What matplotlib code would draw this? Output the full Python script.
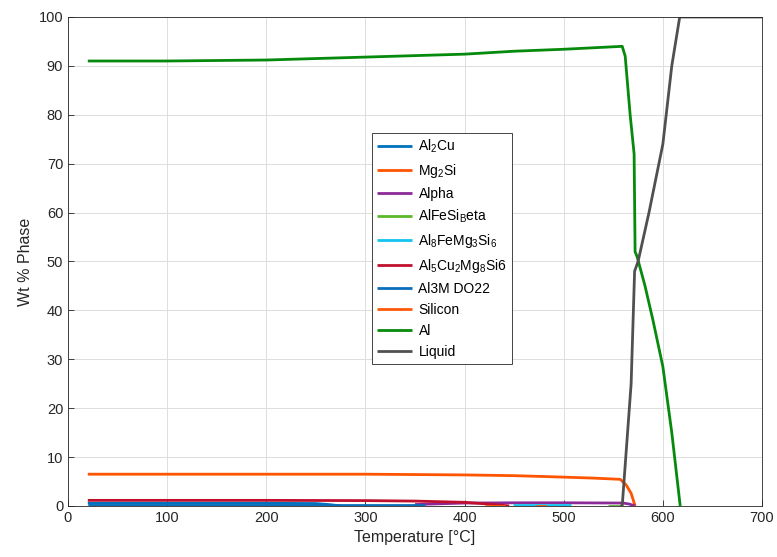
import numpy as np
import matplotlib
matplotlib.use("Agg")
import matplotlib.pyplot as plt

plt.rcParams["font.family"] = ["Liberation Sans", "DejaVu Sans"]
plt.rcParams["mathtext.fontset"] = "custom"
plt.rcParams["mathtext.rm"] = "Liberation Sans"

nan = np.nan

# Phase curves, temperature [C] vs wt %
t_al2cu = [20, 100, 200, 250, 265, 275]
w_al2cu = [0.55, 0.55, 0.55, 0.5, 0.25, 0.0]

t_mg2si = [20, 100, 200, 300, 400, 450, 500, 530, 557, 563, 568, 572]
w_mg2si = [6.5, 6.5, 6.5, 6.5, 6.35, 6.2, 5.9, 5.7, 5.45, 4.3, 2.6, 0.0]

t_alpha = [350, 400, 450, 500, 560, 566, 572]
w_alpha = [0.3, 0.6, 0.65, 0.65, 0.6, 0.4, 0.0]

t_beta = [20, 128, nan, 545, 559]
w_beta = [0.0, 0.0, nan, 0.0, 0.0]

t_al8 = [449, 470, 490, 507]
w_al8 = [0.2, 0.2, 0.2, 0.2]

t_al5 = [20, 100, 200, 300, 350, 400, 430, 440, 445]
w_al5 = [1.15, 1.15, 1.15, 1.1, 1.0, 0.75, 0.3, 0.1, 0.0]

t_al3m = [20, 100, 200, 300, 360]
w_al3m = [0.3, 0.3, 0.3, 0.3, 0.3]

t_si = [421, 441, nan, 472, 482]
w_si = [0.0, 0.0, nan, 0.0, 0.0]

t_al = [20, 100, 200, 300, 400, 450, 500, 559, 562, 567, 571, 572, 574, 582, 590, 600, 609, 617.5]
w_al = [91, 91, 91.2, 91.8, 92.4, 93, 93.4, 94, 92, 80, 72, 52, 51, 45, 38, 28.5, 15, 0]

t_liq = [557, 559, 568, 571.5, 575, 586, 600, 609, 617, 700]
w_liq = [0, 0, 25, 48, 50, 60, 74, 90, 100, 100]

series = [
    (t_al2cu, w_al2cu, r"Al$_\mathregular{2}$Cu", "#0072BD"),
    (t_mg2si, w_mg2si, r"Mg$_\mathregular{2}$Si", "#FF5400"),
    (t_alpha, w_alpha, "Alpha", "#8B2A98"),
    (t_beta, w_beta, r"AlFeSi$_\mathregular{B}$eta", "#5CB82A"),
    (t_al8, w_al8, r"Al$_\mathregular{8}$FeMg$_\mathregular{3}$Si$_\mathregular{6}$", "#14C3F0"),
    (t_al5, w_al5, r"Al$_\mathregular{5}$Cu$_\mathregular{2}$Mg$_\mathregular{8}$Si6", "#C0102E"),
    (t_al3m, w_al3m, "Al3M DO22", "#0B6EBA"),
    (t_si, w_si, "Silicon", "#FF5A0A"),
    (t_al, w_al, "Al", "#058A0B"),
    (t_liq, w_liq, "Liquid", "#505050"),
]

fig = plt.figure(figsize=(7.77, 5.57), dpi=100)
ax = fig.add_axes([0.0875, 0.0916, 0.8932, 0.8779])

for t, w, lab, c in series:
    ax.plot(t, w, color=c, lw=2.0, label=lab, solid_capstyle="butt")

ax.set_xlim(0, 700)
ax.set_ylim(0, 100)
ax.set_xticks(np.arange(0, 701, 100))
ax.set_yticks(np.arange(0, 101, 10))
ax.grid(True, color="#dddddd", lw=0.7)
ax.set_axisbelow(True)
ax.tick_params(direction="in", length=4, labelsize=10.5, colors="#262626", width=0.6)
for s in ax.spines.values():
    s.set_color("#262626")
    s.set_linewidth(0.6)
ax.set_xlabel("Temperature [°C]", fontsize=11.5, color="#262626")
ax.set_ylabel("Wt % Phase", fontsize=11.5, color="#262626")

leg = ax.legend(loc="upper left", bbox_to_anchor=(0.438, 0.763), fontsize=10,
                fancybox=False, framealpha=1, edgecolor="#262626",
                handlelength=2.5, handletextpad=0.5, labelspacing=0.5,
                borderpad=0.35, borderaxespad=0)
leg.get_frame().set_linewidth(0.6)

fig.savefig("out.png", dpi=100)
